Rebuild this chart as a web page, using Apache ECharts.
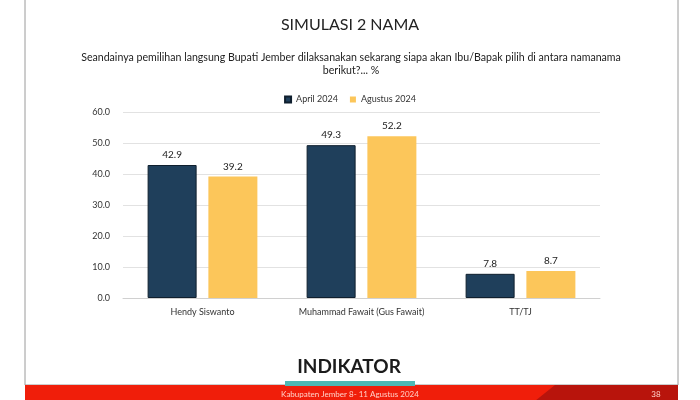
<!DOCTYPE html>
<html><head><meta charset="utf-8">
<script src="https://cdn.jsdelivr.net/npm/echarts@6/dist/echarts.min.js"></script>
<style>html,body{margin:0;padding:0;background:#fff}#c{width:700px;height:400px}</style>
</head><body><div id="c"></div>
<script>
const categories = ['Hendy Siswanto', 'Muhammad Fawait (Gus Fawait)', 'TT/TJ'];
const april2024 = [42.9, 49.3, 7.8];
const agustus2024 = [39.2, 52.2, 8.7];
const seriesNames = ['April 2024', 'Agustus 2024'];
const FONT = 'Lato, "DejaVu Sans", sans-serif';

const chart = echarts.init(document.getElementById('c'), null, {renderer: 'canvas'});
chart.setOption({
  backgroundColor: '#fff',
  animation: false,
  title: [
    {text: 'SIMULASI 2 NAMA', left: 'center', top: 12,
     textStyle: {fontFamily: FONT, fontSize: 16, fontWeight: 'normal', color: '#222'}}
  ],
  legend: {
    data: seriesNames, top: 90, left: 'center', itemWidth: 6, itemHeight: 6, itemGap: 12,
    icon: 'rect', textStyle: {fontFamily: FONT, fontSize: 9, color: '#333'}
  },
  grid: {left: 123, right: 100, top: 112, bottom: 102, containLabel: false},
  xAxis: {
    type: 'category', data: categories,
    axisLine: {lineStyle: {color: '#d0d0d0'}}, axisTick: {show: false},
    axisLabel: {interval: 0, fontFamily: FONT, fontSize: 9, color: '#333', margin: 10}
  },
  yAxis: {
    type: 'value', min: 0, max: 60, interval: 10,
    axisLabel: {fontFamily: FONT, fontSize: 9, color: '#333', margin: 13, formatter: v => v.toFixed(1)},
    splitLine: {lineStyle: {color: '#e2e2e2'}}, axisLine: {show: false}, axisTick: {show: false}
  },
  series: [
    {name: seriesNames[0], type: 'bar', data: april2024, barWidth: 49, barGap: '24%',
     itemStyle: {color: '#1F3F5B', borderColor: '#0F1F2E', borderWidth: 1},
     label: {show: true, position: 'top', distance: 5, fontFamily: FONT, fontSize: 10, color: '#222', formatter: p => p.value.toFixed(1)}},
    {name: seriesNames[1], type: 'bar', data: agustus2024, barWidth: 49,
     itemStyle: {color: '#FCC65A'},
     label: {show: true, position: 'top', distance: 5, fontFamily: FONT, fontSize: 10, color: '#222', formatter: p => p.value.toFixed(1)}}
  ],
  graphic: [
    {type: 'rect', shape: {x: 25, y: -2, width: 653, height: 387}, style: {fill: 'none', stroke: '#9a9a9a', lineWidth: 1}, silent: true},
    {type: 'text', x: 351, y: 51, style: {text: 'Seandainya pemilihan langsung Bupati Jember dilaksanakan sekarang siapa akan Ibu/Bapak pilih di antara namanama\nberikut?... %', fontFamily: FONT, fontSize: 10.6, lineHeight: 13, fill: '#222', align: 'center', verticalAlign: 'top'}, silent: true},
    {type: 'rect', shape: {x: 25, y: 385, width: 653, height: 16}, style: {fill: '#F01E0A'}, silent: true},
    {type: 'polygon', shape: {points: [[555, 385], [678, 385], [678, 401], [535, 401]]}, style: {fill: '#B8140C'}, silent: true},
    {type: 'rect', shape: {x: 285, y: 381, width: 130, height: 5}, style: {fill: '#4DB8B4'}, silent: true},
    {type: 'text', x: 349, y: 367, style: {text: 'INDIKATOR', fontFamily: FONT, fontSize: 19, fontWeight: 'bold', fill: '#1b1b1b', align: 'center', verticalAlign: 'middle'}, silent: true},
    {type: 'text', x: 350, y: 394, style: {text: 'Kabupaten Jember 8- 11 Agustus 2024', fontFamily: FONT, fontSize: 8, fill: '#FFD0C8', align: 'center', verticalAlign: 'middle'}, silent: true},
    {type: 'text', x: 656, y: 394, style: {text: '38', fontFamily: FONT, fontSize: 8, fill: '#FFD0C8', align: 'center', verticalAlign: 'middle'}, silent: true}
  ]
});
</script></body></html>
